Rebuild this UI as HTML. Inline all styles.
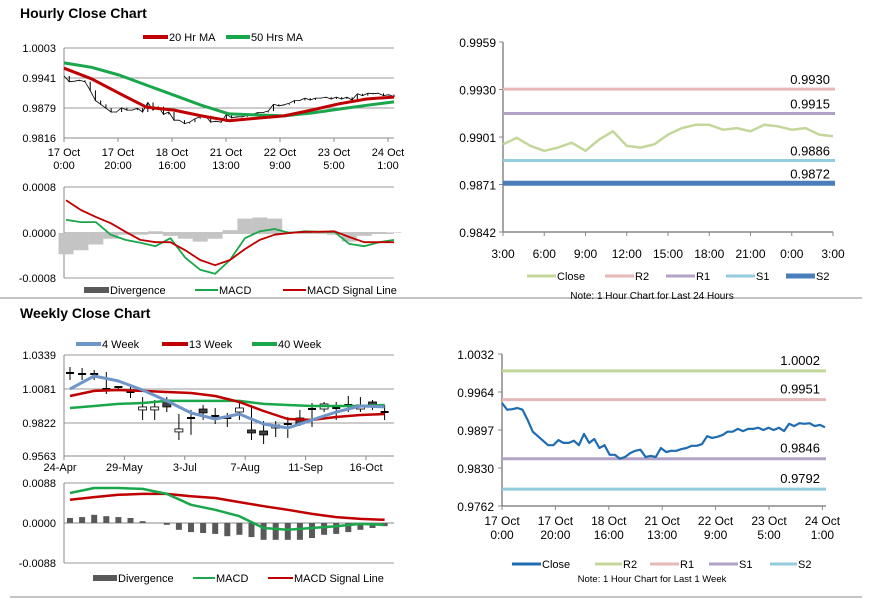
<!DOCTYPE html>
<html><head><meta charset="utf-8"><style>
body{margin:0;background:#fff}
svg{display:block;font-family:"Liberation Sans",Arial,sans-serif}
text{fill:#000}
</style></head><body>
<svg id="s" width="873" height="601" viewBox="0 0 873 601" xmlns="http://www.w3.org/2000/svg">
<text x="20" y="18" font-size="14" font-weight="bold">Hourly Close Chart</text>
<text x="20" y="318" font-size="14" font-weight="bold">Weekly Close Chart</text>
<line x1="0" y1="298" x2="862" y2="298" stroke="#888" stroke-width="1"/>
<line x1="10" y1="597" x2="862" y2="597" stroke="#888" stroke-width="1"/>
<g id="g"></g>
</svg>
<script>
// ---- data ----
const weekClose=[0.9945,0.9933,0.9934,0.9936,0.9933,0.9915,0.9894,0.9886,0.9878,0.9870,0.9870,0.9879,0.9874,0.9874,0.9878,0.9870,0.9890,0.9874,0.9881,0.9865,0.9870,0.9853,0.9853,0.9846,0.9849,0.9856,0.9860,0.9862,0.9849,0.9851,0.9849,0.9865,0.9858,0.9860,0.9860,0.9863,0.9865,0.9869,0.9869,0.9872,0.9886,0.9883,0.9885,0.9888,0.9894,0.9894,0.9899,0.9895,0.9899,0.9899,0.9901,0.9897,0.9901,0.9897,0.9901,0.9895,0.9908,0.9904,0.9909,0.9908,0.9909,0.9904,0.9906,0.9902];
const ma20=[0.9961,0.9939,0.9909,0.9880,0.9874,0.9862,0.9852,0.9857,0.9862,0.9874,0.9887,0.9897,0.9901];
const ma50=[0.9972,0.9963,0.9947,0.9926,0.9905,0.9884,0.9866,0.9864,0.9862,0.9868,0.9876,0.9884,0.9891];
const hXLabels=[["17 Oct","0:00"],["17 Oct","20:00"],["18 Oct","16:00"],["21 Oct","13:00"],["22 Oct","9:00"],["23 Oct","5:00"],["24 Oct","1:00"]];
const hYTicks=["1.0003","0.9941","0.9879","0.9816"];
const hMacd=[2.3,1.9,1.9,-0.3,-1.2,-1.7,-2.3,-0.9,-4.3,-6.4,-7.1,-4.7,-0.9,0.3,0.7,0,0.3,0.2,0.2,-1.9,-2.3,-1.6,-1.2];
const hSignal=[5.7,4.0,2.8,1.7,0.2,-1.2,-1.6,-1.6,-3.0,-4.7,-5.6,-4.7,-2.8,-1.2,-0.3,0,0.2,0.2,0.3,-0.7,-1.6,-1.6,-1.6];
const hDiv=[-3.7,-3.0,-2.0,-1.0,-0.3,-0.3,0.3,-0.5,-1.0,-1.5,-1.0,0.5,2.5,2.7,2.5,0.3,0,0.2,-0.3,-1.5,-0.5,0,0.1];
const dayClose=[0.9896,0.9900,0.9895,0.9892,0.9894,0.9897,0.9892,0.9899,0.9904,0.9895,0.9894,0.9896,0.9902,0.9906,0.9908,0.9908,0.9905,0.9906,0.9904,0.9908,0.9907,0.9905,0.9906,0.9902,0.9901];
const dayLevels=[0.9930,0.9915,0.9886,0.9872];
const dayXLabels=["3:00","6:00","9:00","12:00","15:00","18:00","21:00","0:00","3:00"];
const dayYTicks=["0.9959","0.9930","0.9901","0.9871","0.9842"];
const wkLevels=[1.0002,0.9951,0.9846,0.9792];
const wkYTicks=["1.0032","0.9964","0.9897","0.9830","0.9762"];
const cOpen=[1.0201,1.0193,1.0193,1.0078,1.0093,1.0055,0.9917,0.9917,0.9993,0.9748,0.9855,0.9924,0.9870,0.9855,0.9901,0.9763,0.9755,0.9778,0.9809,0.9855,0.9924,0.9924,0.9932,0.9955,0.9924,0.9978,0.9901];
const cClose=[1.0201,1.0193,1.0193,1.0078,1.0086,1.0055,0.9940,0.9940,0.9940,0.9771,0.9855,0.9894,0.9870,0.9855,0.9932,0.9740,0.9725,0.9801,0.9809,0.9809,0.9924,0.9963,0.9932,0.9955,0.9955,0.9955,0.9901];
const cHigh=[1.0247,1.0239,1.0224,1.0208,1.0101,1.0093,1.0016,0.9993,1.0016,0.9886,0.9917,0.9955,0.9932,0.9894,0.9970,0.9955,0.9832,0.9832,0.9863,0.9917,0.9970,0.9978,0.9978,1.0024,1.0016,0.9993,0.9955];
const cLow=[1.0147,1.0147,1.0147,1.0039,1.0078,1.0009,0.9840,0.9840,0.9901,0.9686,0.9725,0.9840,0.9809,0.9786,0.9840,0.9686,0.9655,0.9709,0.9702,0.9794,0.9786,0.9901,0.9840,0.9901,0.9901,0.9917,0.9840];
const wk4=[1.0078,1.0178,1.0139,1.0070,0.9986,0.9894,0.9847,0.9886,0.9809,0.9778,0.9840,0.9901,0.9947,0.9940];
const wk13=[1.0024,1.0063,1.0070,1.0063,1.0055,1.0047,1.0024,0.9978,0.9909,0.9847,0.9840,0.9863,0.9878,0.9886];
const wk40=[0.9932,0.9947,0.9963,0.9970,0.9986,0.9986,0.9986,0.9986,0.9963,0.9955,0.9947,0.9947,0.9947,0.9955];
const wXLabels=["24-Apr","29-May","3-Jul","7-Aug","11-Sep","16-Oct"];
const wYTicks=["1.0339","1.0081","0.9822","0.9563"];
const wMacd=[66,77,77,75,64,40,29,15,-11,-15,-11,-7,-2,-4];
const wSignal=[51,57,62,64,64,59,55,46,37,29,20,13,9,7];
const wDiv=[11,13,18,15,13,11,4,0,-4,-15,-20,-22,-24,-29,-26,-31,-37,-37,-37,-37,-33,-26,-24,-20,-15,-11,-7];

// ---- helpers ----
const NS="http://www.w3.org/2000/svg", G=document.getElementById('g');
function mk(t,a,txt){const e=document.createElementNS(NS,t);for(const k in a)e.setAttribute(k,a[k]);if(txt!==undefined)e.textContent=txt;G.appendChild(e);return e;}
function lin(v0,v1,p0,p1){return v=>p0+(v-v0)*(p1-p0)/(v1-v0);}
function poly(xs,ys,col,w,name){const e=mk('polyline',{points:xs.map((x,i)=>x.toFixed(1)+','+ys[i].toFixed(1)).join(' '),fill:'none',stroke:col,'stroke-width':w,'stroke-linejoin':'round'});

return e;}
function txt(x,y,s,anchor,size,name){const e=mk('text',{x:x,y:y,'font-size':size||11,'text-anchor':anchor||'start'},s);

return e;}
function hl(x1,x2,y,col,w,name){const e=mk('line',{x1:x1,x2:x2,y1:y,y2:y,stroke:col,'stroke-width':w});

return e;}
function vl(x,y1,y2,col,w,name){const e=mk('line',{x1:x,x2:x,y1:y1,y2:y2,stroke:col,'stroke-width':w});

return e;}
function legend(x1,x2,y,col,w,label,name){hl(x1,x2,y,col,w,name+'-swatch');txt(x2+1,y+4,label,'start',11,name);}
function even(n,a,b){return Array.from({length:n},(_,i)=>a+i*(b-a)/(n-1));}

// ---- Panel 1: hourly price ----
{const L=64,R=394,yv=lin(0.9816,1.0003,138,48);
 [48,78,108].forEach((y,i)=>hl(L,R,y,'#999',1,'h-gridline'));
 hYTicks.forEach((t,i)=>txt(56,[52,82,112,142][i],t,'end',11,'h-y-tick'));
 vl(L,48,138,'#888',1,'h-y-axis');hl(L,R,138,'#888',1,'h-x-axis');
 hXLabels.forEach((l,i)=>{const x=L+i*54;vl(x,138,142,'#888',1,'h-x-tickmark');txt(x,156,l[0],'middle',11,'h-x-tick');txt(x,169,l[1],'middle',11,'h-x-tick');});
 const xs=even(weekClose.length,L,R);
 weekClose.forEach((v,i)=>{if(i>0)vl(xs[i],yv(weekClose[i-1]),yv(v)+0.5,'#000',1,'h-price-bar');});
 poly(xs,weekClose.map(yv),'#000',0.8,'h-close-line');
 const mx=even(ma20.length,L,R);
 poly(mx,ma50.map(yv),'#1aa64b',3,'ma50-line');
 poly(mx,ma20.map(yv),'#c00000',3,'ma20-line');
 legend(143,168,37,'#c00000',4,'20 Hr MA','legend-ma20');
 legend(226,250,37,'#1aa64b',4,'50 Hrs MA','legend-ma50');}

// ---- Panel 2: hourly MACD ----
{const L=64,R=394,yv=lin(0,8,233,187);
 hl(L,R,187,'#999',1,'h-macd-grid');hl(L,R,233,'#888',1,'h-macd-zero');hl(L,R,278,'#999',1,'h-macd-grid');
 vl(L,187,278,'#888',1,'h-macd-y-axis');
 [["0.0008",191],["0.0000",237],["-0.0008",282]].forEach(t=>txt(56,t[1],t[0],'end',11,'h-macd-y-tick'));
 const xs=even(hMacd.length,L+2,R);
 hDiv.forEach((d,i)=>{const e=mk('rect',{x:xs[i]-7.5,width:15,y:Math.min(yv(0),yv(d)),height:Math.abs(yv(d)-yv(0)),fill:'#c4c4c4'});
 
 });
 poly(xs,hMacd.map(yv),'#1aa64b',1.8,'h-macd-line');
 poly(xs,hSignal.map(yv),'#c00000',1.8,'h-signal-line');
 const r=mk('rect',{x:84,y:287,width:25,height:6,fill:'#595959'});
 txt(110,294,'Divergence','start',11,'legend-divergence');
 legend(195,218,290,'#1aa64b',2,'MACD','legend-macd');
 legend(283,306,290,'#c00000',2,'MACD Signal Line','legend-signal');}

// ---- Panel 3: 24h close with levels ----
{const L=503,R=833,yv=lin(0.9842,0.9959,232,42);
 vl(L,42,232,'#888',1.5,'d-y-axis');hl(L,R,232,'#888',1.5,'d-x-axis');
 dayYTicks.forEach((t,i)=>{const y=42+i*47.5;hl(L-4,L,y,'#888',1,'d-y-tickmark');txt(496,y+5,t,'end',12,'d-y-tick');});
 dayXLabels.forEach((t,i)=>{const x=L+i*41.25;vl(x,232,236,'#888',1,'d-x-tickmark');txt(x,258,t,'middle',12,'d-x-tick');});
 const cols=['#e6b8b7','#b3a2c7','#93cddd','#4a7ebb'],ws=[3,3,3,5],nm=['r2','r1','s1','s2'];
 dayLevels.forEach((v,i)=>{hl(L,R+2,yv(v),cols[i],ws[i],'d-level-'+nm[i]);txt(830,yv(v)-5,v.toFixed(4),'end',13,'d-level-label-'+nm[i]);});
 poly(even(dayClose.length,L,R),dayClose.map(yv),'#c4d79b',2.5,'d-close-line');
 const lg=[[527,556,'#c4d79b','Close',3],[605,634,'#e6b8b7','R2',3],[666,695,'#b3a2c7','R1',3],[726,755,'#93cddd','S1',3],[786,815,'#4a7ebb','S2',5]];
 lg.forEach(l=>legend(l[0],l[1],276,l[2],l[4],l[3],'d-legend-'+l[3].toLowerCase()));
 txt(652,299,'Note: 1 Hour Chart for Last 24 Hours','middle',10,'d-note');}

// ---- Panel 4: weekly candles ----
{const L=64,R=394,yv=lin(0.9563,1.0339,456,355);
 [355,389,423].forEach(y=>hl(L,R,y,'#999',1,'w-gridline'));
 vl(L,355,456,'#888',1,'w-y-axis');hl(L,R,456,'#888',1,'w-x-axis');
 wYTicks.forEach((t,i)=>txt(56,[359,393,427,460][i],t,'end',11,'w-y-tick'));
 wXLabels.forEach((t,i)=>{const x=L+i*60.4;vl(x,456,460,'#888',1,'w-x-tickmark');txt(x+(i==0?-4:0),471,t,'middle',11,'w-x-tick');});
 const cx=i=>70+i*12.1;
 cOpen.forEach((o,i)=>{const x=cx(i);vl(x,yv(cHigh[i]),yv(cLow[i]),'#000',1,'w-candle-wick');
  const top=Math.min(yv(o),yv(cClose[i])),h=Math.abs(yv(o)-yv(cClose[i]));
  let e;if(h<1.5){e=mk('line',{x1:x-4,x2:x+4,y1:top,y2:top,stroke:'#000','stroke-width':2});}
  else{e=mk('rect',{x:x-4,y:top,width:8,height:h,fill:cClose[i]>o?'#fff':'#404040',stroke:'#000','stroke-width':0.8});}
  
  });
 const mx=wk4.map((_,i)=>cx(i*2));
 poly(mx,wk40.map(yv),'#1aa64b',2.5,'wk40-line');
 poly(mx,wk13.map(yv),'#c00000',2.5,'wk13-line');
 poly(mx,wk4.map(yv),'#6f95c8',3,'wk4-line');
 legend(76,101,344,'#6f95c8',4,'4 Week','legend-4wk');
 legend(162,188,344,'#c00000',4,'13 Week','legend-13wk');
 legend(252,277,344,'#1aa64b',4,'40 Week','legend-40wk');}

// ---- Panel 5: weekly MACD ----
{const L=64,R=394,yv=lin(0,88,523,483);
 hl(L,R,483,'#999',1,'w-macd-grid');hl(L,R,523,'#888',1,'w-macd-zero');hl(L,R,563,'#999',1,'w-macd-grid');
 vl(L,483,563,'#888',1,'w-macd-y-axis');
 [["0.0088",487],["0.0000",527],["-0.0088",567]].forEach(t=>txt(56,t[1],t[0],'end',11,'w-macd-y-tick'));
 wDiv.forEach((v,i)=>{const x=70+i*12.1;const e=mk('rect',{x:x-3,width:6,y:Math.min(yv(0),yv(v)),height:Math.abs(yv(v)-yv(0)),fill:'#595959'});
 
 });
 const mx=wMacd.map((_,i)=>70+i*2*12.1);
 poly(mx,wSignal.map(yv),'#c00000',2.5,'w-signal-line');
 poly(mx,wMacd.map(yv),'#1aa64b',2.5,'w-macd-line');
 const r=mk('rect',{x:93,y:575,width:24,height:6,fill:'#595959'});
 txt(118,582,'Divergence','start',11,'w-legend-divergence');
 legend(193,215,578,'#1aa64b',2,'MACD','w-legend-macd');
 legend(268,293,578,'#c00000',2,'MACD Signal Line','w-legend-signal');}

// ---- Panel 6: 1-week close with levels ----
{const L=502,R=826,yv=lin(0.9762,1.0032,506,354);
 vl(L,354,506,'#888',1.5,'k-y-axis');hl(L,R,506,'#888',1.5,'k-x-axis');
 wkYTicks.forEach((t,i)=>{const y=354+i*38;hl(L-4,L,y,'#888',1,'k-y-tickmark');txt(494,y+5,t,'end',12,'k-y-tick');});
 hXLabels.forEach((l,i)=>{const x=L+i*53.4;vl(x,506,510,'#888',1,'k-x-tickmark');txt(x,525,l[0],'middle',12,'k-x-tick');txt(x,539,l[1],'middle',12,'k-x-tick');});
 const cols=['#c4d79b','#e6b8b7','#b3a2c7','#93cddd'],nm=['r2','r1','s1','s2'];
 wkLevels.forEach((v,i)=>{hl(L,R,yv(v),cols[i],3,'k-level-'+nm[i]);txt(820,yv(v)-6,v.toFixed(4),'end',13,'k-level-label-'+nm[i]);});
 poly(even(weekClose.length,L,R-1),weekClose.map(yv),'#1f6cb0',2.2,'k-close-line');
 const lg=[[512,541,'#1f6cb0','Close'],[595,622,'#c4d79b','R2'],[650,679,'#e6b8b7','R1'],[709,738,'#b3a2c7','S1'],[770,797,'#93cddd','S2']];
 lg.forEach(l=>legend(l[0],l[1],564,l[2],3,l[3],'k-legend-'+l[3].toLowerCase()));
 txt(652,582,'Note: 1 Hour Chart for Last 1 Week','middle',9.5,'k-note');}
</script>
</body></html>
